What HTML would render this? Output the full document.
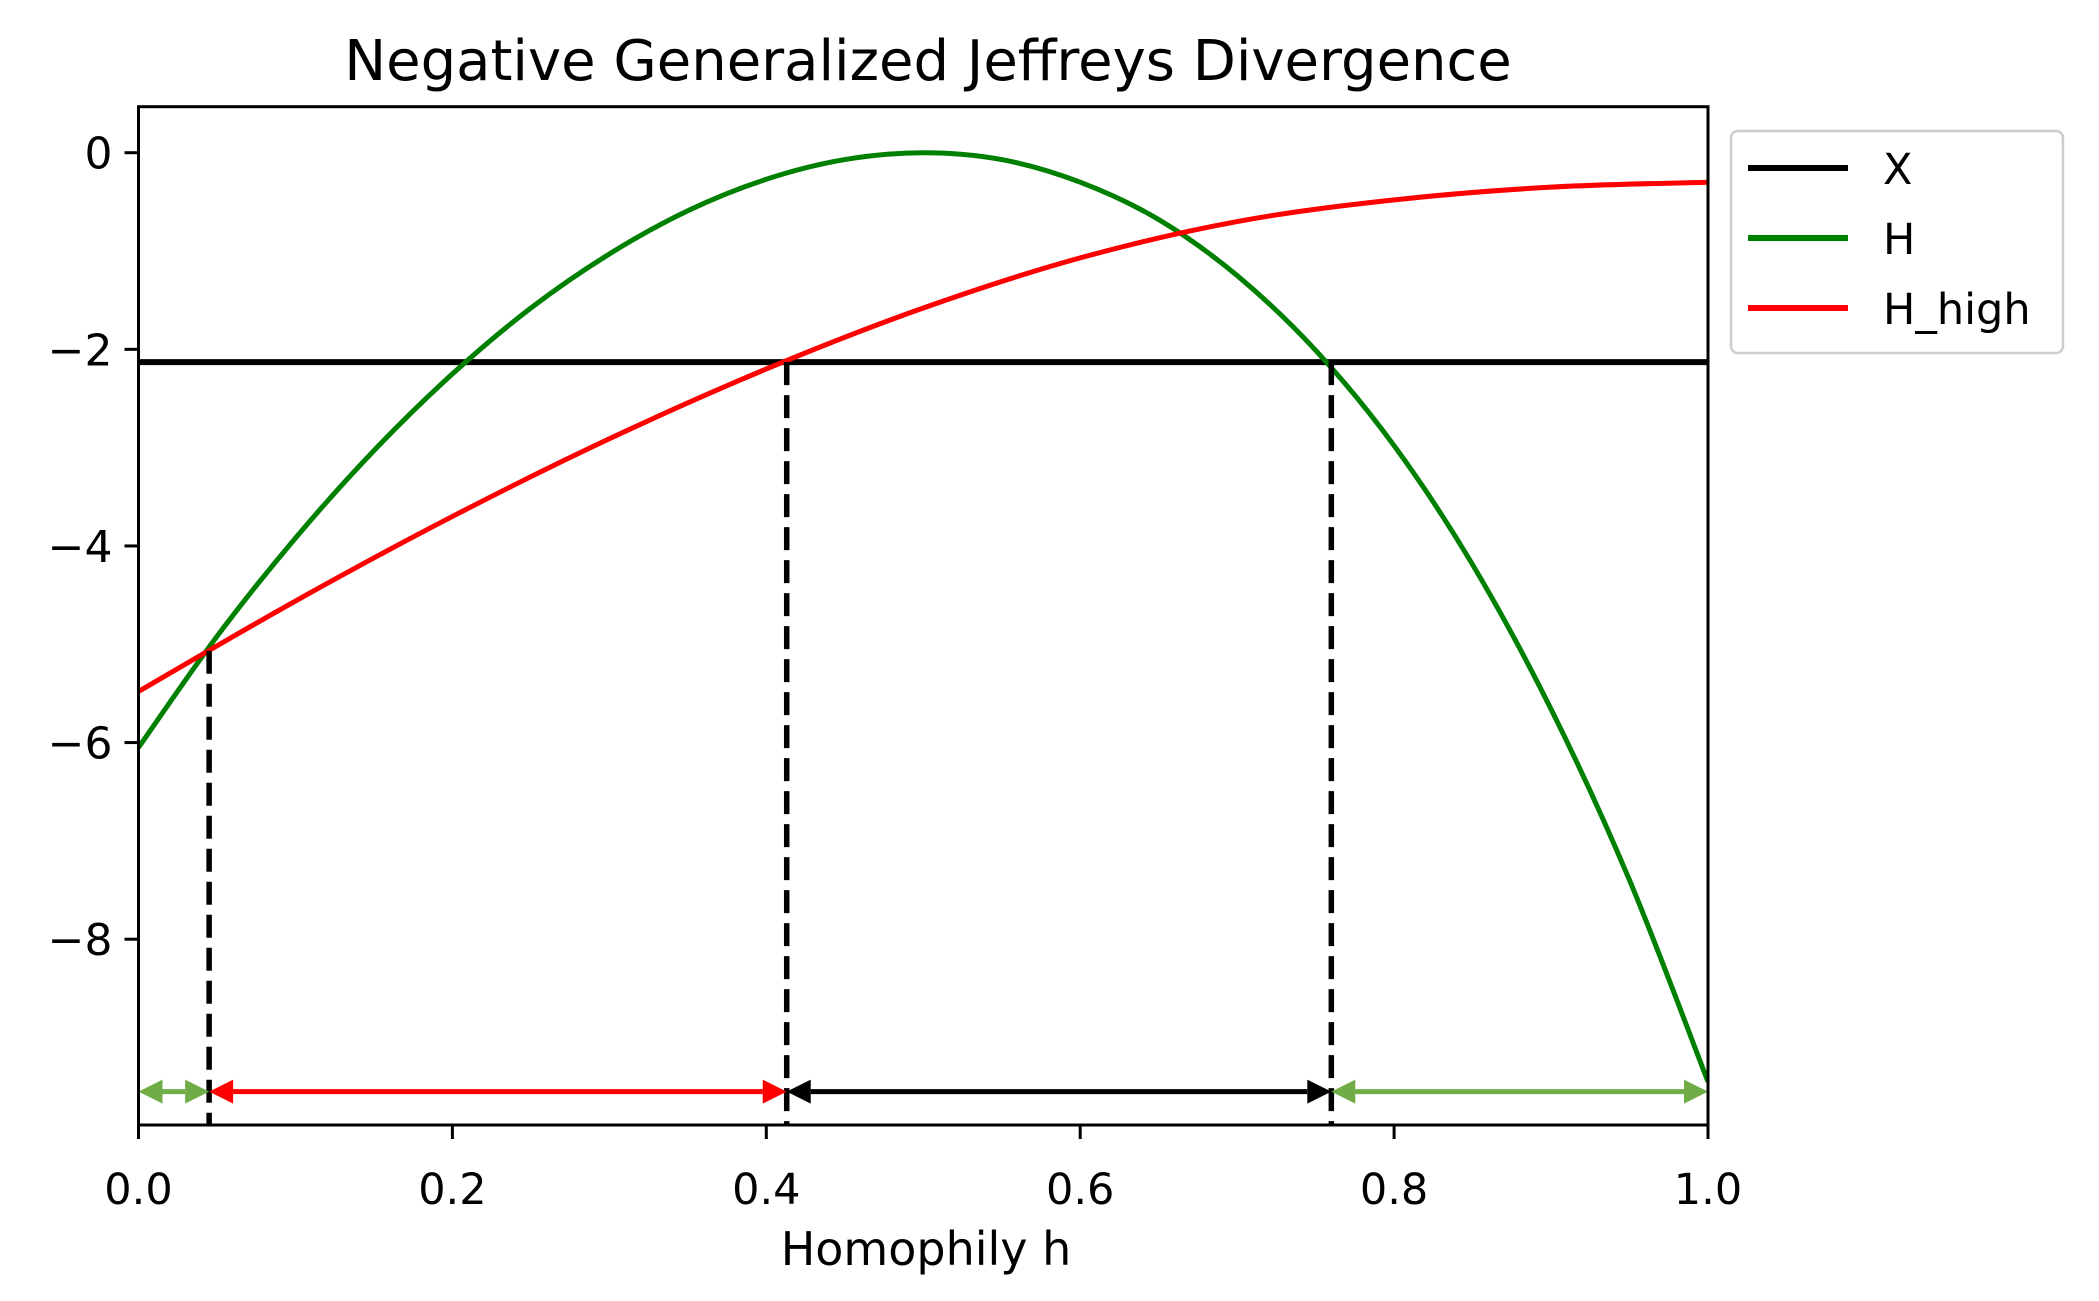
<!DOCTYPE html>
<html><head><meta charset="utf-8"><style>
body{margin:0;background:#fff}
svg{display:block;font-family:"DejaVu Sans","Liberation Sans",sans-serif}
</style></head><body>
<svg id="chart" width="2099" height="1301" viewBox="0 0 2099 1301" xmlns="http://www.w3.org/2000/svg">
<rect width="2099" height="1301" fill="#fff"/>
<text x="928" y="80" font-size="56" text-anchor="middle">Negative Generalized Jeffreys Divergence</text>
<text x="926" y="1265" font-size="46" text-anchor="middle">Homophily h</text>
<g id="plot"></g>
<g id="legend">
<rect x="1731" y="131" width="332" height="222" rx="7" fill="#fff" stroke="#ccc" stroke-width="2.5"/>
<g><line x1="1748" y1="168" x2="1848" y2="168" stroke="#000" stroke-width="6"/><text x="1883" y="184" font-size="43">X</text></g>
<g><line x1="1748" y1="238" x2="1848" y2="238" stroke="#008000" stroke-width="6"/><text x="1883" y="254" font-size="43">H</text></g>
<g><line x1="1748" y1="308" x2="1848" y2="308" stroke="#ff0000" stroke-width="6"/><text x="1883" y="324" font-size="43">H_high</text></g>
</g>
</svg>
<script>
const hValues=[0,0.05,0.1,0.15,0.2,0.25,0.3,0.35,0.4,0.45,0.5,0.55,0.6,0.65,0.7,0.75,0.8,0.85,0.9,0.95,1.0];
const seriesH=[-6.05,-4.92,-3.92,-3.03,-2.25,-1.58,-1.03,-0.59,-0.27,-0.07,0,-0.07,-0.3,-0.68,-1.25,-2.01,-2.98,-4.19,-5.66,-7.4,-9.45];
const hHighValues=[0,0.1,0.2,0.3,0.4,0.5,0.6,0.7,0.8,0.9,1.0];
const seriesHHigh=[-5.48,-4.56,-3.7,-2.91,-2.2,-1.58,-1.07,-0.7,-0.48,-0.35,-0.3];
const xLevel=-2.13;
const crossings=[0.045,0.413,0.76];
const arrowY=-9.55;
const arrowSegments=[[0,0.045,'#70ad47'],[0.045,0.413,'#ff0000'],[0.413,0.76,'#000000'],[0.76,1.0,'#70ad47']];
const xTicks=[0,0.2,0.4,0.6,0.8,1.0];
const xTickLabels=['0.0','0.2','0.4','0.6','0.8','1.0'];
const yTicks=[0,-2,-4,-6,-8];
const yTickLabels=['0','\u22122','\u22124','\u22126','\u22128'];

const L=138.5,R=1708,T=106.7,B=1125;
const X0=0,X1=1,Y0=-9.89,Y1=0.468;
const sx=v=>L+(v-X0)/(X1-X0)*(R-L);
const sy=v=>B-(v-Y0)/(Y1-Y0)*(B-T);
const NS='http://www.w3.org/2000/svg';
const g=document.getElementById('plot');
function mk(tag,attrs,parent){const e=document.createElementNS(NS,tag);for(const k in attrs)e.setAttribute(k,attrs[k]);(parent||g).appendChild(e);return e;}
function smooth(xs,ys){const p=xs.map((x,i)=>[sx(x),sy(ys[i])]);let d='M'+p[0][0]+','+p[0][1];
for(let i=0;i<p.length-1;i++){const p0=p[i-1]||p[i],p1=p[i],p2=p[i+1],p3=p[i+2]||p2;
const c1=[p1[0]+(p2[0]-p0[0])/6,p1[1]+(p2[1]-p0[1])/6],c2=[p2[0]-(p3[0]-p1[0])/6,p2[1]-(p3[1]-p1[1])/6];
d+=' C'+c1+' '+c2+' '+p2;}return d;}
function interp(xs,ys,x){for(let i=0;i<xs.length-1;i++){if(x<=xs[i+1]){const t=(x-xs[i])/(xs[i+1]-xs[i]);return ys[i]+t*(ys[i+1]-ys[i]);}}return ys[ys.length-1];}

const defs=mk('defs',{});
const cp=mk('clipPath',{id:'clip'},defs);mk('rect',{x:L,y:T,width:R-L,height:B-T},cp);
const inner=mk('g',{'clip-path':'url(#clip)'});

const lx=mk('line',{x1:sx(0),x2:sx(1),y1:sy(xLevel),y2:sy(xLevel),stroke:'#000','stroke-width':6},inner);


const ph=mk('path',{d:smooth(hValues,seriesH),fill:'none',stroke:'#008000','stroke-width':5},inner);


const phh=mk('path',{d:smooth(hHighValues,seriesHHigh),fill:'none',stroke:'#ff0000','stroke-width':5},inner);



crossings.forEach((c,i)=>{
 const topY=i==0?interp(hHighValues,seriesHHigh,c):xLevel;
 const l=mk('line',{x1:sx(c),x2:sx(c),y1:sy(topY),y2:B,stroke:'#000','stroke-width':5.5,'stroke-dasharray':'23,10'},inner);
 
 
});

arrowSegments.forEach(s=>{
 const a=sx(s[0]),b=sx(s[1]),y=sy(arrowY),c=s[2],hl=24,hw=12;
 const grp=mk('g',{},inner);
 
 
 mk('line',{x1:a+hl,x2:b-hl,y1:y,y2:y,stroke:c,'stroke-width':5},grp);
 mk('polygon',{points:`${a},${y} ${a+hl},${y-hw} ${a+hl},${y+hw}`,fill:c},grp);
 mk('polygon',{points:`${b},${y} ${b-hl},${y-hw} ${b-hl},${y+hw}`,fill:c},grp);
});

const fr=mk('rect',{x:L,y:T,width:R-L,height:B-T,fill:'none',stroke:'#000','stroke-width':3});



xTicks.forEach((t,i)=>{
 mk('line',{x1:sx(t),x2:sx(t),y1:B,y2:B+14,stroke:'#000','stroke-width':3});
 const tx=mk('text',{x:sx(t),y:B+79,'font-size':43,'text-anchor':'middle'});
 tx.textContent=xTickLabels[i];
 
 
});
yTicks.forEach((t,i)=>{
 mk('line',{x1:L-14,x2:L,y1:sy(t),y2:sy(t),stroke:'#000','stroke-width':3});
 const tx=mk('text',{x:L-26,y:sy(t)+16,'font-size':44,'text-anchor':'end'});
 tx.textContent=yTickLabels[i];
 
 
});
</script>
</body></html>
